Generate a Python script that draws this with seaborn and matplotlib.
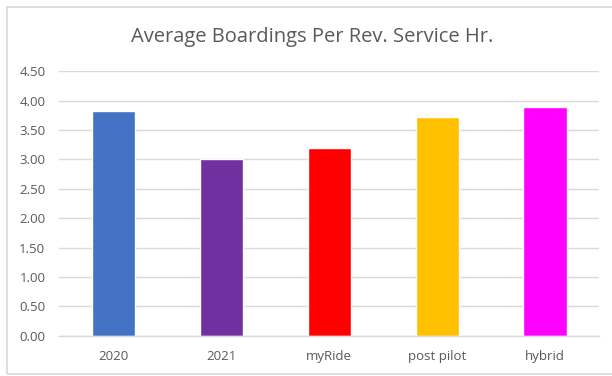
import matplotlib
matplotlib.use("Agg")
import matplotlib.pyplot as plt
import seaborn as sns
import pandas as pd
from matplotlib.patches import Rectangle

categories = ["2020", "2021", "myRide", "post pilot", "hybrid"]
values = [3.82, 3.00, 3.19, 3.73, 3.90]
bar_colors = ["#4472C4", "#7030A0", "#FF0000", "#FFC000", "#FF00FF"]
yticks = [0.0, 0.5, 1.0, 1.5, 2.0, 2.5, 3.0, 3.5, 4.0, 4.5]

sns.set_style("white")
plt.rcParams['font.family'] = ['Open Sans', 'DejaVu Sans']

df = pd.DataFrame({"cat": categories, "val": values})

fig = plt.figure(figsize=(6.12, 3.76), dpi=100)
ax = fig.add_axes([59.3 / 612, 1 - 335.7 / 376, (599 - 59.3) / 612, (335.7 - 71.3) / 376])

sns.barplot(data=df, x="cat", y="val", hue="cat", palette=bar_colors,
            width=0.4, legend=False, ax=ax, saturation=1)

ax.set_ylim(0, 4.5)
ax.set_xlim(-0.5, 4.5)
ax.set_yticks(yticks)
ax.set_yticklabels(["%.2f" % t for t in yticks])
ax.yaxis.grid(True, color="#d9d9d9", linewidth=1)
ax.set_axisbelow(True)
for s in ["top", "right", "left"]:
    ax.spines[s].set_visible(False)
ax.spines["bottom"].set_color("#d9d9d9")
ax.spines["bottom"].set_linewidth(1)
ax.tick_params(axis="both", length=0, colors="#595959", labelsize=9.5)
ax.tick_params(axis="y", pad=10)
ax.tick_params(axis="x", pad=10)
ax.set_xlabel("")
ax.set_ylabel("")

fig.text(312 / 612, 1 - 37 / 376, "Average Boardings Per Rev. Service Hr.",
         ha="center", va="center", fontsize=14.5, color="#595959")

# outer chart border
fig.patches.append(Rectangle((7 / 612, 2 / 376), 1.0, 367 / 376, transform=fig.transFigure,
                             fill=False, edgecolor="#d9d9d9", linewidth=1.2))

fig.savefig("out.png", dpi=100)
